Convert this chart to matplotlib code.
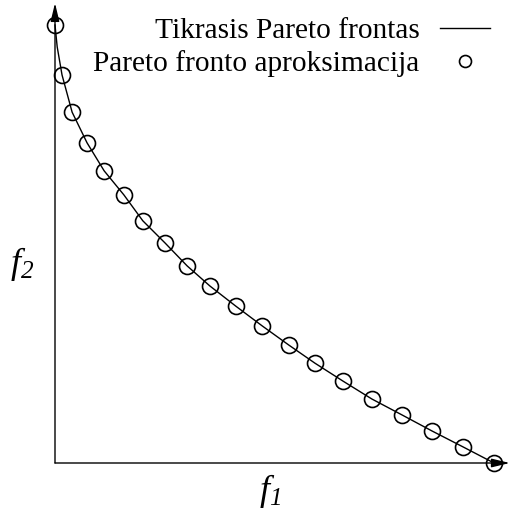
import matplotlib
matplotlib.use("Agg")
import matplotlib.pyplot as plt

plt.rcParams['font.family'] = ['Liberation Serif', 'DejaVu Serif']
plt.rcParams['mathtext.fontset'] = 'custom'
plt.rcParams['mathtext.it'] = 'Liberation Serif:italic'
plt.rcParams['mathtext.rm'] = 'Liberation Serif:italic'

# true front (solid line)
f1_true = [0.000, 0.005, 0.016, 0.039, 0.073, 0.112, 0.157, 0.200, 0.251, 0.301,
           0.353, 0.412, 0.472, 0.533, 0.592, 0.656, 0.722, 0.790, 0.859, 0.929, 1.000]
f2_true = [1.000, 0.950, 0.886, 0.801, 0.731, 0.667, 0.612, 0.553, 0.502, 0.450,
           0.404, 0.358, 0.313, 0.269, 0.228, 0.187, 0.146, 0.110, 0.073, 0.037, 0.000]

# approximated front (circles)
f1_approx = [0.000, 0.016, 0.039, 0.073, 0.112, 0.157, 0.200, 0.251, 0.301, 0.353,
             0.412, 0.472, 0.533, 0.592, 0.656, 0.722, 0.790, 0.859, 0.929, 1.000]
f2_approx = [1.000, 0.886, 0.801, 0.731, 0.667, 0.612, 0.553, 0.502, 0.450, 0.404,
             0.358, 0.313, 0.269, 0.228, 0.187, 0.146, 0.110, 0.073, 0.037, 0.000]

fig = plt.figure(figsize=(5.1, 5.12), dpi=100)
ax = fig.add_axes([55 / 510, 49 / 512, 439 / 510, 438 / 512])
ax.set_xlim(0, 1)
ax.set_ylim(0, 1)
ax.axis('off')

ax.plot(f1_true, f2_true, '-', color='black', lw=1.0,
        label='Tikrasis Pareto frontas', clip_on=False, zorder=2)
ax.plot(f1_approx, f2_approx, 'o', mfc='none', mec='black', mew=1.2, ms=11.5,
        label='Pareto fronto aproksimacija', clip_on=False, zorder=3)

# axes drawn as arrows
arrow = dict(arrowstyle='-|>,head_length=0.5,head_width=0.12', color='black', lw=1.0,
             mutation_scale=22, shrinkA=0, shrinkB=0)
ax.annotate('', xy=(1.036, 0), xytext=(0, 0), arrowprops=arrow,
            xycoords='axes fraction', annotation_clip=False)
ax.annotate('', xy=(0, 1.050), xytext=(0, 0), arrowprops=arrow,
            xycoords='axes fraction', annotation_clip=False)

fig.text(270 / 510, 1 - 491 / 512, '$f_1$', fontsize=26, ha='center', va='center')
fig.text(22 / 510, 1 - 264 / 512, '$f_2$', fontsize=26, ha='center', va='center')

ax.legend(loc='upper right', bbox_to_anchor=(508 / 510, 1.0), bbox_transform=fig.transFigure,
          frameon=False, markerfirst=False, markerscale=0.75, fontsize=21.2,
          handlelength=1.7, handletextpad=0.7, labelspacing=0.2, borderaxespad=0.2)

fig.savefig('out.png', dpi=100)
